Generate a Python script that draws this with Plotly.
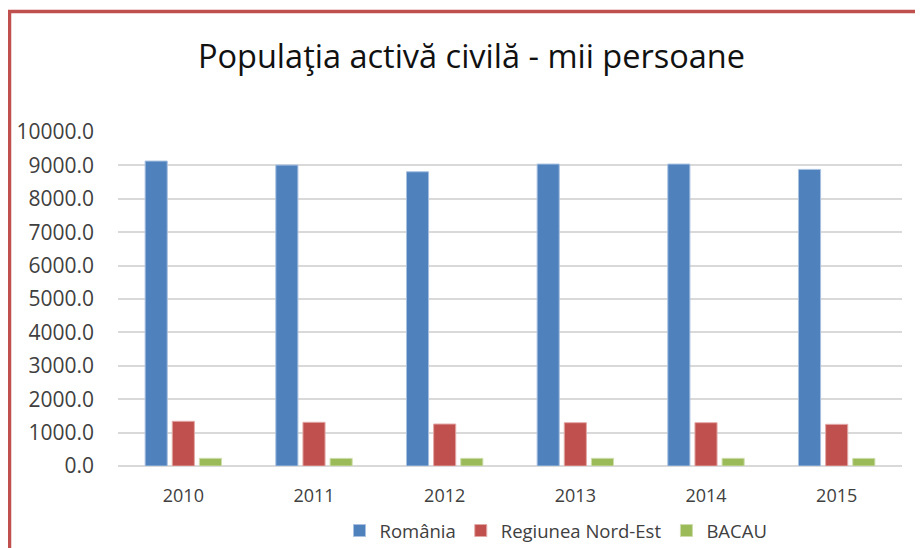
import plotly.graph_objects as go

years = ["2010", "2011", "2012", "2013", "2014", "2015"]
romania = [9130, 9010, 8810, 9040, 9040, 8880]
nord_est = [1338, 1308, 1257, 1297, 1297, 1248]
bacau = [230, 228, 229, 230, 229, 228]
y_ticks = [0, 1000, 2000, 3000, 4000, 5000, 6000, 7000, 8000, 9000, 10000]

# the page body adds an 8px offset; work in figure coordinates = page - 8
OFF = 8
L, R, T, B = 118 - OFF, 902 - OFF, 132 - OFF, 466 - OFF
W, H = 923, 548

def px(x):
    return (x - OFF - L) / (R - L)

def py(y):
    return (B - (y - OFF)) / (B - T)

fig = go.Figure()
for name, vals, col, edge in [
    ("România", romania, "#4f81bd", "#a9c1e0"),
    ("Regiunea Nord-Est", nord_est, "#c0504d", "#e2a8a6"),
    ("BACAU", bacau, "#9bbb59", "#cddcac"),
]:
    fig.add_trace(go.Bar(x=years, y=vals, name=name, marker_color=col,
                         marker_line_color=edge, marker_line_width=1))

fig.update_layout(
    width=W, height=H,
    margin=dict(l=L, r=W - R, t=T, b=H - B, autoexpand=False),
    paper_bgcolor="white", plot_bgcolor="white",
    barmode="group", bargap=0.377, bargroupgap=0.185,
    font=dict(family="Open Sans", color="#404040", size=18),
    title=dict(text="Populaţia activă civilă - mii persoane",
               x=(471.5 - OFF) / W, xanchor="center", y=1 - (57 - OFF) / H, yanchor="middle",
               font=dict(size=32.5, color="#111111", family="Open Sans")),
    showlegend=True,
    legend=dict(orientation="h", x=px(556), xanchor="center", y=py(531), yanchor="middle",
                font=dict(size=18.5, color="#404040"), traceorder="normal"),
    xaxis=dict(showgrid=False, showline=False, ticks="", automargin=False,
               ticklabelstandoff=17, tickfont=dict(size=18)),
    yaxis=dict(range=[0, 10000], tickvals=y_ticks, tickformat=".1f", automargin=False,
               showgrid=True, gridcolor="#d9d9d9", gridwidth=1.5,
               zeroline=True, zerolinecolor="#d9d9d9", zerolinewidth=1.5,
               showline=False, ticks="", ticklabelstandoff=23, tickfont=dict(size=21)),
    shapes=[dict(type="path", xref="paper", yref="paper",
                 path=f"M {px(9.5)} {py(700)} L {px(9.5)} {py(11.5)} L {px(1100)} {py(11.5)}",
                 line=dict(color="#c0504d", width=3.5), layer="above")],
)

fig.write_html("out.html")
